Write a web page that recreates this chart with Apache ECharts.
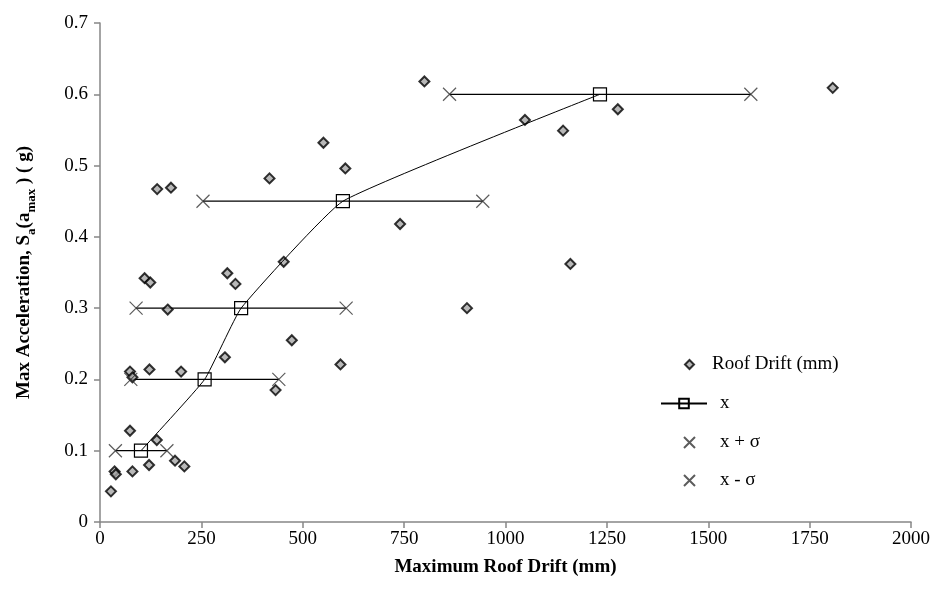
<!DOCTYPE html>
<html>
<head>
<meta charset="utf-8">
<script src="https://cdn.jsdelivr.net/npm/echarts@6/dist/echarts.min.js"></script>
<style>
  html, body { margin: 0; padding: 0; background: #fff; }
  #chart { width: 938px; height: 608px; }
</style>
</head>
<body>
<div id="chart"></div>
<script>
// Observed roof drift (mm) and the peak acceleration (g) for each record
const driftMm = [27, 36, 39, 80, 74, 121, 140, 185, 208, 74, 80, 122, 200, 167, 110, 124, 141, 175,
                 308, 314, 334, 418, 433, 453, 473, 551, 593, 605, 740, 800, 905, 1048, 1142, 1160, 1277, 1807];
const accelG  = [0.043, 0.071, 0.067, 0.071, 0.128, 0.080, 0.115, 0.086, 0.078, 0.211, 0.203, 0.214, 0.211, 0.298, 0.342, 0.336, 0.467, 0.469,
                 0.231, 0.349, 0.334, 0.482, 0.185, 0.365, 0.255, 0.532, 0.221, 0.496, 0.418, 0.618, 0.300, 0.564, 0.549, 0.362, 0.579, 0.609];

// Acceleration levels with mean drift and mean ± one standard deviation
const levels     = [0.1, 0.2, 0.3, 0.45, 0.6];
const meanDrift  = [101, 258, 348, 599, 1233];
const plusSigma  = [165, 441, 607, 944, 1605];
const minusSigma = [38, 76, 89, 254, 862];

const xTicks = { min: 0, max: 2000, interval: 250 };
const yTicks = { min: 0, max: 0.7, interval: 0.1 };

const FONT = '"Liberation Serif", "Times New Roman", serif';
const crossPath = 'path://M0,0L10,10M10,0L0,10';

const zip = (xs, ys) => xs.map((v, i) => [v, ys[i]]);

// One horizontal whisker per level, spanning mean - σ to mean + σ
const spreadSeries = levels.map((lv, i) => ({
  type: 'line',
  name: 'spread' + i,
  data: [[minusSigma[i], lv], [plusSigma[i], lv]],
  showSymbol: false,
  symbol: 'none',
  lineStyle: { color: '#000', width: 1.2 },
  z: 1,
  silent: true
}));

const legendText = pad => ({ fontFamily: FONT, fontSize: 19, color: '#000', padding: [0, 0, 0, pad] });

const chart = echarts.init(document.getElementById('chart'), null, { renderer: 'canvas' });

chart.setOption({
  animation: false,
  backgroundColor: '#fff',
  textStyle: { fontFamily: FONT },
  grid: { left: 100, right: 27, top: 23, bottom: 86, containLabel: false, outerBoundsMode: 'none' },
  legend: [
    {
      left: 679, top: 350,
      itemWidth: 9, itemHeight: 9,
      data: ['Roof Drift (mm)'],
      textStyle: legendText(13)
    },
    {
      left: 655, top: 389,
      itemWidth: 46, itemHeight: 12,
      data: ['x'],
      textStyle: legendText(8)
    },
    {
      orient: 'vertical',
      left: 678, top: 428,
      itemWidth: 11, itemHeight: 11,
      itemGap: 19,
      data: ['x + σ', 'x - σ'],
      textStyle: legendText(20)
    }
  ],
  xAxis: {
    type: 'value',
    min: xTicks.min, max: xTicks.max, interval: xTicks.interval,
    name: 'Maximum Roof Drift (mm)',
    nameLocation: 'middle',
    nameGap: 36,
    nameTextStyle: { fontFamily: FONT, fontSize: 19, fontWeight: 'bold', color: '#000' },
    axisLine: { lineStyle: { color: '#868686', width: 1.5 } },
    axisTick: { show: true, length: 6, lineStyle: { color: '#868686', width: 1.5 } },
    axisLabel: { fontFamily: FONT, fontSize: 19, color: '#000', margin: 8, formatter: v => String(v) },
    splitLine: { show: false }
  },
  yAxis: {
    type: 'value',
    min: yTicks.min, max: yTicks.max, interval: yTicks.interval,
    name: '{b|Max Acceleration, S}{s|a}{b|(a}{s|max}{b| ) ( g)}',
    nameLocation: 'middle',
    nameRotate: 90,
    nameGap: 66,
    nameTextStyle: {
      fontFamily: FONT, fontSize: 19, fontWeight: 'bold', color: '#000',
      rich: {
        b: { fontFamily: FONT, fontSize: 19, fontWeight: 'bold', color: '#000', lineHeight: 24, verticalAlign: 'bottom' },
        s: { fontFamily: FONT, fontSize: 13, fontWeight: 'bold', color: '#000', lineHeight: 24, verticalAlign: 'bottom', padding: [0, 0, -4, 0] }
      }
    },
    axisLine: { show: true, lineStyle: { color: '#868686', width: 1.5 } },
    axisTick: { show: true, length: 6, lineStyle: { color: '#868686', width: 1.5 } },
    axisLabel: {
      fontFamily: FONT, fontSize: 19, color: '#000', margin: 12,
      formatter: v => (v === 0 ? '0' : v.toFixed(1))
    },
    splitLine: { show: false }
  },
  series: [
    ...spreadSeries,
    {
      type: 'scatter',
      name: 'Roof Drift (mm)',
      data: zip(driftMm, accelG),
      symbol: 'diamond',
      symbolSize: 10,
      itemStyle: { color: '#a6a6a6', borderColor: '#000', borderWidth: 2 },
      z: 3
    },
    {
      type: 'line',
      name: 'x',
      data: zip(meanDrift, levels),
      smooth: 0.12,
      symbol: 'rect',
      symbolSize: 13,
      showAllSymbol: true,
      lineStyle: { color: '#000', width: 1 },
      itemStyle: { color: 'rgba(255,255,255,0)', borderColor: '#000', borderWidth: 1.2 },
      z: 4
    },
    {
      type: 'scatter',
      name: 'x + σ',
      data: zip(plusSigma, levels),
      symbol: crossPath,
      symbolSize: 13,
      itemStyle: { color: 'rgba(0,0,0,0)', borderColor: '#333', borderWidth: 1.2 },
      z: 4
    },
    {
      type: 'scatter',
      name: 'x - σ',
      data: zip(minusSigma, levels),
      symbol: crossPath,
      symbolSize: 13,
      itemStyle: { color: 'rgba(0,0,0,0)', borderColor: '#333', borderWidth: 1.2 },
      z: 4
    }
  ]
});
</script>
</body>
</html>
